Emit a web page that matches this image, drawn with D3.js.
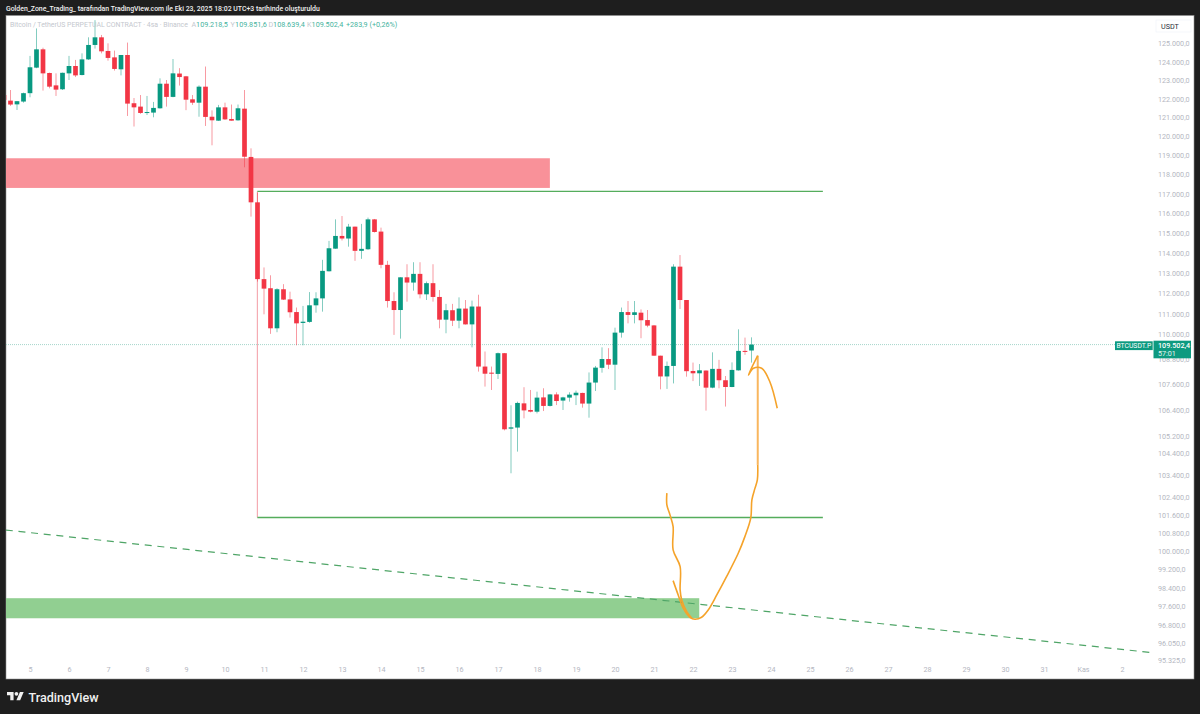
<!DOCTYPE html>
<html>
<head>
<meta charset="utf-8">
<script src="https://cdn.jsdelivr.net/npm/d3@7"></script>
<style>
  html, body { margin: 0; padding: 0; background: #1e1e1e; overflow: hidden; }
  svg { display: block; font-family: Roboto, sans-serif; }
</style>
</head>
<body>
<script>
// 4 hour candles, the first one opens on Oct 4 08:00
const firstCandle = Date.UTC(2025, 9, 4, 8);
const opens = [
  122200, 121900, 121700, 121850, 122300, 123680, 124680, 123390, 122720, 122510,
  123370, 123770, 123280, 124130, 124920, 125340, 124590, 124240, 123590, 124370,
  121760, 121580, 121240, 121260, 121490, 122810, 122100, 123360, 123210, 121970,
  121790, 122650, 121040, 120830, 121540, 120920, 120850, 121470, 118920, 116570,
  112700, 112250, 110290, 112200, 111700, 111080, 110550, 110600, 111410, 111750,
  113090, 114220, 114860, 114730, 115330, 114110, 114190, 115700, 115080, 113410,
  111620, 111180, 112790, 112530, 112960, 111950, 112500, 111820, 110710, 111170,
  110660, 111250, 110480, 111350, 108450, 108160, 108100, 109090, 105530, 105580,
  106710, 106400, 106320, 106990, 106590, 107130, 106840, 106980, 107090, 107200,
  106700, 107690, 108390, 108810, 108540, 110080, 111080, 110940, 111050, 110690,
  110430, 108970, 107980, 108480, 113320, 111670, 108240, 108130, 108260, 107450,
  108340, 107800, 107480, 108270, 109200, 109218.5
];
const highs = [
  122210, 122470, 121880, 122330, 124320, 125830, 124770, 123410, 123370, 123410,
  124320, 124100, 124460, 125340, 126290, 125470, 125010, 124610, 124370, 125050,
  122040, 122200, 122150, 121830, 123100, 123010, 124150, 123650, 123230, 122200,
  122720, 123740, 121380, 121670, 121790, 121690, 121690, 122470, 119370, 117070,
  113280, 112890, 112250, 112450, 112080, 111300, 111380, 112060, 112050, 113660,
  114610, 115700, 115870, 115470, 115330, 115470, 115790, 115720, 115280, 113610,
  112050, 112790, 113440, 113540, 113540, 112580, 113440, 112160, 111480, 111480,
  111800, 111670, 111640, 111930, 109170, 108450, 109120, 109100, 106620, 106790,
  107470, 107340, 107260, 107420, 107150, 107230, 107020, 107230, 107310, 107210,
  108170, 108480, 109370, 109330, 110320, 111300, 111620, 111620, 111210, 111180,
  110450, 108970, 108690, 113440, 113900, 111670, 108640, 108570, 108270, 109130,
  108770, 108000, 108650, 110240, 109840, 109851.6
];
const lows = [
  121900, 121620, 121400, 121790, 122080, 123650, 122440, 122560, 122150, 122470,
  123010, 123170, 123260, 124100, 124720, 124460, 124060, 123520, 123260, 121080,
  120520, 121190, 121130, 121010, 121470, 121580, 122080, 122710, 121390, 121670,
  121040, 120550, 119530, 120820, 120870, 120830, 120830, 118380, 115840, 112580,
  110970, 110020, 110100, 111670, 110810, 109470, 109470, 110560, 111050, 111100,
  113080, 114210, 114630, 114320, 113610, 113710, 114160, 115030, 113240, 111300,
  109970, 109790, 111590, 112130, 111750, 111670, 111590, 110290, 110050, 110400,
  110290, 110470, 109370, 108210, 107500, 107340, 107860, 105450, 103480, 104470,
  106010, 106290, 106240, 106350, 106560, 106630, 106400, 106790, 106630, 106510,
  106040, 107290, 108160, 108330, 107340, 109840, 110530, 110530, 109810, 110340,
  108960, 107370, 107390, 107650, 111230, 107970, 107760, 107530, 106370, 107420,
  107420, 106560, 107470, 108260, 109010, 108639.4
];
const closes = [
  121940, 121690, 121870, 122300, 123700, 124680, 123370, 122650, 122490, 123400,
  123770, 123260, 124130, 124920, 125340, 124570, 124210, 123610, 124370, 121740,
  121540, 121240, 121290, 121510, 122810, 122100, 123370, 123170, 121950, 121790,
  122650, 121030, 120850, 121540, 120900, 120830, 121490, 118930, 116570, 112700,
  112230, 110290, 112200, 111690, 111070, 110530, 110610, 111410, 111750, 113110,
  114240, 114860, 114730, 115330, 114110, 114210, 115700, 115060, 113410, 111620,
  111180, 112790, 112530, 112960, 111950, 112500, 111820, 110710, 111170, 110660,
  111250, 110480, 111350, 108450, 108110, 108110, 109090, 105500, 105590, 106730,
  106380, 106320, 106980, 106590, 107130, 106820, 106990, 107120, 107210, 106700,
  107690, 108400, 108810, 108540, 110080, 111080, 110940, 111070, 110680, 110420,
  108970, 107980, 108480, 113320, 111670, 108230, 108130, 108270, 107450, 108340,
  107800, 107480, 108290, 109200, 109150, 109502.4
];

// axis labels
const priceTicks = [
  125000, 124000, 123000, 122000, 121000, 120000, 119000, 118000, 117000, 116000,
  115000, 114000, 113000, 112000, 111000, 110000, 108800, 107600, 106400, 105200,
  104400, 103400, 102400, 101600, 100800, 100000, 99200, 98400, 97600, 96800, 96050, 95325
];
const dayTicks = d3.range(5, 32).map((d) => new Date(Date.UTC(2025, 9, d))).concat([
  new Date(Date.UTC(2025, 10, 1)),
  new Date(Date.UTC(2025, 10, 2)),
]);

// drawings on the chart, in days after Oct 5 and price
const lastPrice = 109502.4;
const sellZone = { from: -1, to: 13.33, top: 118850, bottom: 117310 };
const buyZone = { from: -1, to: 17.16, top: 97950, bottom: 97090 };
const rangeBox = { from: 5.83, to: 20.33, top: 117130, bottom: 101490 };
const trendDays = [-0.62, 28.79];
const trendPrices = [100930, 95630];
const brushDaysA = [16.33, 16.33, 16.41, 16.49, 16.49, 16.67, 16.67, 16.71, 16.84, 16.97];
const brushPricesA = [102580, 102054, 101606, 101080, 100053, 99319, 98307, 97876, 97373, 97090];
const brushDaysB = [16.49, 16.62, 16.75, 16.92, 17.05, 17.22, 17.39, 17.61, 17.86, 18.16, 18.33, 18.48, 18.51, 18.59, 18.65, 18.66];
const brushPricesB = [98710, 98091, 97519, 97133, 97047, 97133, 97446, 98091, 98883, 99905, 100638, 101457, 102279, 102806, 103181, 103860];
const brushDaysC = [18.66, 18.66];
const brushPricesC = [103860, 108970];
const brushDaysD = [18.66, 18.42, 18.55, 18.76, 18.97, 19.16];
const brushPricesD = [108970, 108048, 108368, 108368, 107731, 106482];

const legendValues = [
  { key: "A", value: "109.218,5", x: 191.5 },
  { key: "Y", value: "109.851,6", x: 230.5 },
  { key: "D", value: "108.639,4", x: 268.5 },
  { key: "K", value: "109.502,4", x: 307 },
];

const width = 1200;
const height = 714;
const green = "#089981";
const red = "#f23645";
const day = 864e5;

const candles = opens.map((o, i) => ({
  time: new Date(firstCandle + i * day / 6),
  open: o,
  high: highs[i],
  low: lows[i],
  close: closes[i],
}));
const fromDay = (d) => new Date(Date.UTC(2025, 9, 5) + d * day);

const x = d3.scaleUtc().domain([dayTicks[0], dayTicks[dayTicks.length - 1]]).range([30, 1122]);
const y = d3.scaleLog().domain([95325, 125000]).range([660, 43.5]);
const bodyWidth = 4.7;

const svg = d3.select("body").append("svg").attr("width", width).attr("height", height);

svg.append("rect").attr("width", width).attr("height", height).attr("fill", "#1e1e1e");
svg.append("rect").attr("x", 6).attr("y", 15.5).attr("width", 1188).attr("height", 663.5)
  .attr("fill", "#fff").attr("stroke", "#8f8f8f").attr("stroke-width", 0.6);

svg.append("clipPath").attr("id", "plot")
  .append("rect").attr("x", 6).attr("y", 15.5).attr("width", 1147).attr("height", 663.5);

const plot = svg.append("g").attr("clip-path", "url(#plot)");

// zones
[[sellZone, "#f99199"], [buyZone, "#91cf91"]].forEach(([z, color]) => {
  plot.append("rect")
    .attr("x", x(fromDay(z.from)))
    .attr("y", y(z.top))
    .attr("width", x(fromDay(z.to)) - x(fromDay(z.from)))
    .attr("height", y(z.bottom) - y(z.top))
    .attr("fill", color);
});

// range box
plot.append("line")
  .attr("x1", x(fromDay(rangeBox.from))).attr("x2", x(fromDay(rangeBox.from)))
  .attr("y1", y(rangeBox.top)).attr("y2", y(rangeBox.bottom))
  .attr("stroke", "#f5a5ad").attr("stroke-width", 1.1);
[rangeBox.top, rangeBox.bottom].forEach((p) => {
  plot.append("line")
    .attr("x1", x(fromDay(rangeBox.from))).attr("x2", x(fromDay(rangeBox.to)))
    .attr("y1", y(p)).attr("y2", y(p))
    .attr("stroke", "#55ad5c").attr("stroke-width", 1.4);
});

// trend line
plot.append("path")
  .attr("d", d3.line().x((d) => x(fromDay(d))).y((_, i) => y(trendPrices[i]))(trendDays))
  .attr("fill", "none")
  .attr("stroke", "#4fa567")
  .attr("stroke-width", 1.2)
  .attr("stroke-dasharray", "7 5.7");

// last price line
plot.append("line")
  .attr("x1", 6).attr("x2", 1115)
  .attr("y1", y(lastPrice)).attr("y2", y(lastPrice))
  .attr("stroke", "#a5d6cb").attr("stroke-width", 1).attr("stroke-dasharray", "1 1");

// candles
plot.selectAll("line.wick")
  .data(candles)
  .enter()
  .append("line")
  .attr("class", "wick")
  .attr("x1", (d) => x(d.time))
  .attr("x2", (d) => x(d.time))
  .attr("y1", (d) => y(d.high))
  .attr("y2", (d) => y(d.low))
  .attr("stroke", (d) => (d.close >= d.open ? green : red))
  .attr("stroke-opacity", 0.5)
  .attr("stroke-width", 1);

plot.selectAll("rect.body")
  .data(candles)
  .enter()
  .append("rect")
  .attr("class", "body")
  .attr("x", (d) => x(d.time) - bodyWidth / 2)
  .attr("width", bodyWidth)
  .attr("y", (d) => y(Math.max(d.open, d.close)))
  .attr("height", (d) => Math.max(1, y(Math.min(d.open, d.close)) - y(Math.max(d.open, d.close))))
  .attr("fill", (d) => (d.close >= d.open ? green : red));

// hand drawn strokes
const brush = d3.line().curve(d3.curveCatmullRom).x((d) => x(fromDay(d[0]))).y((d) => y(d[1]));
[
  [brushDaysA, brushPricesA, "#f5a32a", 1.6],
  [brushDaysB, brushPricesB, "#f5a32a", 1.6],
  [brushDaysC, brushPricesC, "#f9b65e", 2],
  [brushDaysD, brushPricesD, "#f5a32a", 1.6],
].forEach(([days, prices, color, w]) => {
  plot.append("path")
    .attr("d", brush(days.map((d, i) => [d, prices[i]])))
    .attr("fill", "none")
    .attr("stroke", color)
    .attr("stroke-width", w);
});

// axes
const priceFormat = d3.formatLocale({ decimal: ",", thousands: ".", grouping: [3], currency: ["", ""] }).format(",.1f");
const dayLabel = (d) => (d.getUTCMonth() === 10 && d.getUTCDate() === 1 ? "Kas" : d.getUTCDate());

const yAxis = svg.append("g")
  .attr("transform", "translate(1158,0)")
  .call(d3.axisRight(y).tickValues(priceTicks).tickFormat(priceFormat).tickSize(0).tickPadding(0));
const xAxis = svg.append("g")
  .attr("transform", "translate(0,667)")
  .call(d3.axisBottom(x).tickValues(dayTicks).tickFormat(dayLabel).tickSize(0).tickPadding(0));
[yAxis, xAxis].forEach((a) => {
  a.select(".domain").remove();
  a.selectAll("text").attr("fill", "#b4b7bf").style("font-size", "7.2px").style("font-family", "Roboto, sans-serif");
});

// USDT box
svg.append("rect")
  .attr("x", 1156).attr("y", 20).attr("width", 35).attr("height", 12)
  .attr("fill", "#fff").attr("stroke", "#f0f3fa").attr("stroke-width", 0.7);
svg.append("text").attr("x", 1161).attr("y", 28.5).attr("fill", "#2a2e39").style("font-size", "7.2px").text("USDT");

// last price labels
svg.append("rect").attr("x", 1115).attr("y", 341.3).attr("width", 37.7).attr("height", 8.8).attr("fill", "#0d9a80");
svg.append("text").attr("x", 1133.8).attr("y", 348.2).attr("text-anchor", "middle").attr("fill", "#fff").style("font-size", "6.8px").text("BTCUSDT.P");
svg.append("rect").attr("x", 1153.5).attr("y", 340.7).attr("width", 37.5).attr("height", 17.6).attr("fill", "#0d9a80");
svg.append("text").attr("x", 1158).attr("y", 348).attr("fill", "#fff").style("font-size", "7.2px").style("font-weight", 500).text("109.502,4");
svg.append("text").attr("x", 1158).attr("y", 356).attr("fill", "#e4f4f0").style("font-size", "7.2px").text("57:01");

// header
svg.append("text").attr("x", 6).attr("y", 11.3).attr("fill", "#f0f0f0").style("font-size", "6.9px").style("font-weight", 500)
  .text("Golden_Zone_Trading_ tarafından TradingView.com ile Eki 23, 2025 18:02 UTC+3 tarihinde oluşturuldu");

// legend
svg.append("text").attr("x", 10).attr("y", 26.5).attr("fill", "#c4c7ce").style("font-size", "6.9px")
  .text("Bitcoin / TetherUS PERPETUAL CONTRACT · 4sa · Binance");
legendValues.forEach((d) => {
  svg.append("text").attr("x", d.x).attr("y", 26.5).attr("fill", "#c4c7ce").style("font-size", "7.2px").text(d.key);
  svg.append("text").attr("x", d.x + 4.6).attr("y", 26.5).attr("fill", "#45b39e").style("font-size", "7.2px").text(d.value);
});
svg.append("text").attr("x", 346).attr("y", 26.5).attr("fill", "#45b39e").style("font-size", "7.2px").text("+283,9 (+0,26%)");

// logo
const logo = svg.append("g").attr("transform", "translate(7,690) scale(0.47)").attr("fill", "#f0f0f0");
logo.append("path").attr("d", "M14 22H7V11H0V4h14v18zM28 22h-8l7.5-18h8L28 22z");
logo.append("circle").attr("cx", 20).attr("cy", 8).attr("r", 4);
svg.append("text").attr("x", 28.5).attr("y", 701.5).attr("fill", "#f0f0f0").style("font-size", "12.6px").style("font-weight", 500).text("TradingView");
</script>
</body>
</html>
